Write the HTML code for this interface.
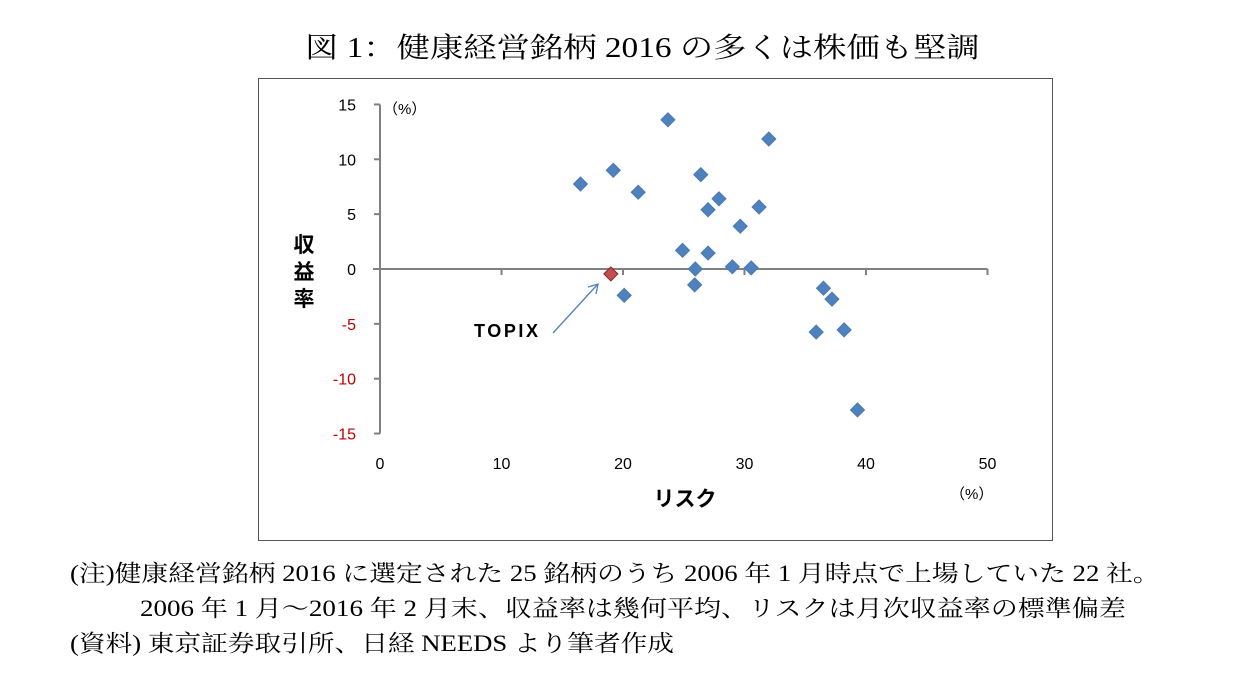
<!DOCTYPE html>
<html><head><meta charset="utf-8"><style>
body{margin:0;background:#fff;width:1257px;height:675px;overflow:hidden;position:relative;font-family:"Liberation Serif","Noto Serif CJK SC","Noto Sans CJK JP",serif;}
.t{position:absolute;white-space:nowrap;color:#000;transform-origin:0 0}
</style></head><body>
<div class="t" style="left:305px;top:26px;font-size:28px;transform:scaleX(1.19);">図 1：健康経営銘柄 2016 の多くは株価も堅調</div>
<svg width="1257" height="675" style="position:absolute;left:0;top:0" font-family="Liberation Sans, Noto Sans CJK JP, sans-serif">
<rect x="258.5" y="78.5" width="794" height="462" fill="none" stroke="#555" stroke-width="1"/>
<g id="axes"></g><g id="marks"></g>
<text x="304" y="252" font-size="21" font-weight="bold" text-anchor="middle">収</text>
<text x="304" y="279" font-size="21" font-weight="bold" text-anchor="middle">益</text>
<text x="304" y="306" font-size="21" font-weight="bold" text-anchor="middle">率</text>
<text x="383" y="114" font-size="15">（%）</text>
<text x="685" y="506" font-size="21" font-weight="bold" text-anchor="middle">リスク</text>
<text x="950" y="499" font-size="15">（%）</text>
<text x="474" y="337" font-size="18" font-weight="bold" textLength="64">TOPIX</text>
<line x1="553" y1="333" x2="597" y2="285" stroke="#4f81bd" stroke-width="1.3"/>
<polyline points="588,287 598,284 596,294" fill="none" stroke="#4f81bd" stroke-width="1.3"/>
</svg>
<div class="t" style="left:70px;top:555px;font-size:23px;transform:scaleX(1.165);">(注)健康経営銘柄 2016 に選定された 25 銘柄のうち 2006 年 1 月時点で上場していた 22 社。</div>
<div class="t" style="left:140px;top:590px;font-size:23px;transform:scaleX(1.175);">2006 年 1 月～2016 年 2 月末、収益率は幾何平均、リスクは月次収益率の標準偏差</div>
<div class="t" style="left:70px;top:625px;font-size:23px;transform:scaleX(1.16);">(資料)  東京証券取引所、日経 NEEDS より筆者作成</div>
<script>
const xTicks=[0,10,20,30,40,50];
const yTicks=[15,10,5,0,-5,-10,-15];
const riskValues=[16.5,19.2,21.25,23.7,26.4,27.0,27.9,32.0,31.2,29.65,24.9,27.0,25.95,29.0,30.55,25.9,20.1,36.5,37.2,35.9,38.2,39.3];
const returnValues=[7.75,9.0,7.0,13.6,8.6,5.4,6.4,11.85,5.65,3.9,1.7,1.45,0,0.2,0.1,-1.45,-2.4,-1.75,-2.75,-5.75,-5.55,-12.85];
const topixRisk=[19.0];
const topixReturn=[-0.45];
const NS='http://www.w3.org/2000/svg';
const X=v=>380+v*12.15, Y=v=>269-v*10.97;
function mk(t,a,p){const e=document.createElementNS(NS,t);for(const k in a)e.setAttribute(k,a[k]);p.appendChild(e);return e;}
const ax=document.getElementById('axes'), mg=document.getElementById('marks');
let l=mk('line',{x1:380,y1:Y(15),x2:380,y2:Y(-15),stroke:'#808080','stroke-width':2},ax);


l=mk('line',{x1:373,y1:269,x2:X(50),y2:269,stroke:'#808080','stroke-width':2},ax);


yTicks.forEach(v=>{mk('line',{x1:374,y1:Y(v),x2:380,y2:Y(v),stroke:'#808080','stroke-width':2},ax);
const t=mk('text',{x:356,y:Y(v)+6,'font-size':16,'text-anchor':'end',fill:v<0?'#c00000':'#000'},ax);t.textContent=v;

});
xTicks.forEach(v=>{if(v>0)mk('line',{x1:X(v),y1:269,x2:X(v),y2:275,stroke:'#808080','stroke-width':2},ax);
const t=mk('text',{x:X(v),y:469,'font-size':16,'text-anchor':'middle'},ax);t.textContent=v;

});
function dia(x,y,f,s){return mk('polygon',{points:`${x},${y-7} ${x+7},${y} ${x},${y+7} ${x-7},${y}`,fill:f,stroke:s,'stroke-width':1},mg);}
riskValues.forEach((r,i)=>{const d=dia(X(r),Y(returnValues[i]),'#4f81bd','#4a7ab5');

});
topixRisk.forEach((r,i)=>{const d=dia(X(r),Y(topixReturn[i]),'#c0504d','#8b2020');

});
</script>
</body></html>
